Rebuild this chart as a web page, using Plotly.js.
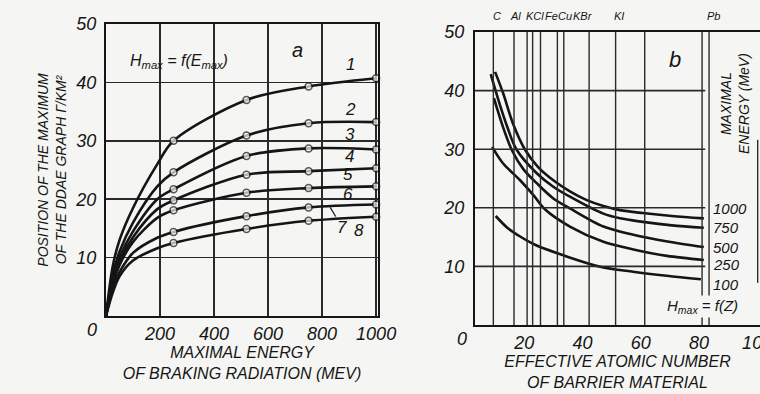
<!DOCTYPE html>
<html>
<head>
<meta charset="utf-8">
<script src="https://cdn.plot.ly/plotly-3.0.1.min.js"></script>
<style>
html,body{margin:0;padding:0;background:#f5f5f3;}
#chart{width:760px;height:394px;}
</style>
</head>
<body>
<div id="chart"></div>
<script>
// ---------- Panel a: H_max vs E_max ----------
const energy = [0, 25, 50, 100, 190, 250, 520, 750, 1000];
const curve1 = [0, 8.5, 13, 18.5, 26, 30, 37, 39.3, 40.7];
const curve2 = [0, 7, 11, 16, 22.2, 24.6, 30.9, 33.0, 33.2];
const curve3 = [0, 6.5, 10, 14.5, 20, 21.7, 27.4, 28.7, 28.5];
const curve4 = [0, 6, 9.3, 13.5, 18.3, 19.8, 24.2, 24.8, 25.3];
const curve5 = [0, 5.5, 8.7, 12.7, 16.8, 18.1, 21.1, 21.9, 22.2];
const curve6 = [0, 4.8, 7.5, 10.8, 13.4, 14.4, 17.1, 18.6, 19.1];
const curve8 = [0, 4, 6.8, 9.5, 11.6, 12.5, 14.9, 16.3, 17.0];
const measuredFrom = 250; // measured points drawn as open circles
const curveLabels = ['1','2','3','4','5','6','7','8'];
const xTicksA = [200, 400, 600, 800, 1000];
const yTicks = [10, 20, 30, 40, 50];

// ---------- Panel b: H_max vs Z ----------
const z1000 = [9.3, 12.1, 15.5, 19.6, 24, 29.3, 35, 40.8, 46.5, 52.2, 60, 70, 81];
const h1000 = [43.2, 39.5, 34.3, 29.9, 27, 24.7, 22.8, 21.3, 20.3, 19.6, 19.1, 18.6, 18.2];
const z750 = [7.8, 10.5, 13.5, 16.7, 23.6, 29.3, 35, 46.5, 52.2, 60, 70, 81];
const h750 = [42.8, 38.3, 33.8, 29.9, 25.9, 23.6, 21.9, 19.0, 18.2, 17.6, 17.0, 16.6];
const z500 = [8.9, 12, 15, 19, 23.6, 29.3, 35, 46.5, 56.8, 68, 81];
const h500 = [38.7, 33.8, 29.9, 26.6, 24.2, 21.6, 19.9, 16.8, 15.4, 14.3, 13.3];
const z250 = [8.3, 12, 17.9, 22.4, 26.5, 35, 46.5, 56.8, 68.3, 81];
const h250 = [30.4, 27.6, 24.7, 22.2, 19.7, 16.8, 14.2, 12.9, 11.8, 11.1];
const z100 = [9.5, 13.5, 17.9, 23, 33.9, 45.4, 56.7, 68.3, 80];
const h100 = [18.6, 16.6, 15.1, 13.7, 11.7, 9.95, 9.1, 8.4, 7.8];
const energyLabels = ['1000', '750', '500', '250', '100'];
const elementNames = ['C', 'Al', 'KCl', 'Fe', 'Cu', 'KBr', 'KI', 'Pb'];
const elementLabelZ = [10.0, 16.2, 23.0, 28.6, 33.4, 39.6, 51.9, 84.2];
const zLines = [8.7, 15.8, 20.3, 22.2, 24.9, 30.7, 32.9, 41.6, 50.7, 60.7, 80.4, 82.8];
const xTicksB = [20, 40, 60, 80, 100];

// ---------- styling ----------
const INK = '#151515';
const GRID = '#2a2a2a';
const BG = '#f5f5f3';
const numFont = {family: 'Liberation Sans Narrow, Liberation Sans, Arial, sans-serif', size: 18, color: INK, style: 'italic'};
const txtFont = {family: 'Liberation Sans, Arial, sans-serif', size: 15, color: INK, style: 'italic'};

const traces = [];
const aCurves = [curve1, curve2, curve3, curve4, curve5, curve6, curve8];
aCurves.forEach(c => {
  traces.push({
    x: energy, y: c, xaxis: 'x', yaxis: 'y',
    mode: 'lines+markers', type: 'scatter',
    line: {color: INK, width: 2.6, shape: 'spline', smoothing: 0.9},
    marker: {symbol: 'circle', size: energy.map(e => e >= measuredFrom ? 7 : 0),
             color: BG, line: {color: INK, width: 1.5}},
    hoverinfo: 'skip', showlegend: false, cliponaxis: false
  });
});
const bCurves = [[z1000, h1000], [z750, h750], [z500, h500], [z250, h250], [z100, h100]];
bCurves.forEach(([zx, hy]) => {
  traces.push({
    x: zx, y: hy, xaxis: 'x2', yaxis: 'y2',
    mode: 'lines', type: 'scatter',
    line: {color: INK, width: 2.6, shape: 'spline', smoothing: 0.9},
    hoverinfo: 'skip', showlegend: false
  });
});

const shapes = [];
zLines.forEach(z => shapes.push({type: 'line', xref: 'x2', yref: 'y2', x0: z, x1: z, y0: 0, y1: 50,
  line: {color: GRID, width: 1.4}}));
[10, 20, 30, 40].forEach(v => shapes.push({type: 'line', xref: 'x2', yref: 'y2', x0: 2.4, x1: 81.5, y0: v, y1: v,
  line: {color: GRID, width: 1.6}}));
shapes.push({type: 'line', xref: 'x2', yref: 'y2', x0: 99.5, x1: 99.5, y0: 7.2, y1: 31.6, line: {color: GRID, width: 1.4}});

const annotations = [];
// curve labels panel a
const aLabelPos = [[905, 43], [905, 35.3], [905, 31], [900, 27.3], [895, 24.2], [895, 20.8], null, [935, 14.6]];
curveLabels.forEach((t, i) => {
  if (i === 6) {
    annotations.push({xref: 'x', yref: 'y', x: 830, y: 18.6, text: t, showarrow: true, arrowhead: 0,
      arrowwidth: 1.2, arrowcolor: INK, ax: 12, ay: 20, font: {...numFont, size: 17}});
  } else {
    annotations.push({xref: 'x', yref: 'y', x: aLabelPos[i][0], y: aLabelPos[i][1], text: t, showarrow: false,
      font: {...numFont, size: 17}});
  }
});
annotations.push({xref: 'x', yref: 'y', x: 270, y: 43.6, text: 'H<sub>max</sub> = f(E<sub>max</sub>)', showarrow: false,
  font: {...txtFont, size: 16}});
annotations.push({xref: 'x', yref: 'y', x: 710, y: 45.6, text: 'a', showarrow: false, font: {...txtFont, size: 20}});
annotations.push({xref: 'paper', yref: 'paper', x: 92 / 760, y: 1 - 330 / 394, xanchor: 'center', yanchor: 'middle',
  text: '0', showarrow: false, font: numFont});
// panel b labels
const bLabelY = [19.8, 16.7, 13.3, 10.3, 6.9];
energyLabels.forEach((t, i) => annotations.push({xref: 'x2', yref: 'y2', x: 83.5, y: bLabelY[i], text: t,
  showarrow: false, xanchor: 'left', font: {...numFont, size: 15}}));
elementNames.forEach((t, i) => annotations.push({xref: 'x2', yref: 'paper', x: elementLabelZ[i], y: 1 - 16 / 394,
  yanchor: 'middle', text: t, showarrow: false, font: {...txtFont, size: 11}}));
annotations.push({xref: 'x2', yref: 'y2', x: 71, y: 45.3, text: 'b', showarrow: false, font: {...txtFont, size: 22}});
annotations.push({xref: 'x2', yref: 'y2', x: 80.5, y: 3.2, text: 'H<sub>max</sub> = f(Z)', showarrow: false,
  font: {...txtFont, size: 15}, bgcolor: BG});
annotations.push({xref: 'paper', yref: 'paper', x: 735 / 760, y: 1 - 104 / 394, xanchor: 'center', yanchor: 'middle',
  text: 'MAXIMAL<br>ENERGY (MeV)', textangle: -90, showarrow: false, font: {...txtFont, size: 14}});
annotations.push({xref: 'paper', yref: 'paper', x: 462 / 760, y: 1 - 339 / 394, xanchor: 'center', yanchor: 'middle',
  text: '0', showarrow: false, font: numFont});

const layout = {
  width: 760, height: 394,
  margin: {l: 0, r: 0, t: 0, b: 0},
  paper_bgcolor: BG, plot_bgcolor: BG,
  showlegend: false,
  xaxis: {
    domain: [106 / 760, 378 / 760], range: [0, 1007], anchor: 'y',
    tickvals: xTicksA, ticks: '', tickfont: numFont, ticklabelstandoff: 0,
    showgrid: true, gridcolor: GRID, gridwidth: 1.4, zeroline: false,
    showline: true, mirror: true, linecolor: INK, linewidth: 2.2,
    title: {text: 'MAXIMAL ENERGY<br>OF BRAKING RADIATION (MEV)', font: {...txtFont, size: 16}, standoff: 0}
  },
  yaxis: {
    domain: [1 - 316 / 394, 1 - 24 / 394], range: [0, 50], anchor: 'x',
    tickvals: yTicks, ticks: '', tickfont: numFont, ticklabelstandoff: 4,
    showgrid: true, gridcolor: GRID, gridwidth: 1.6, zeroline: false,
    showline: true, mirror: true, linecolor: INK, linewidth: 2.2,
    title: {text: 'POSITION OF THE MAXIMUM<br>OF THE DDAE GRAPH Г/KM²', font: {...txtFont, size: 14}, standoff: 5}
  },
  xaxis2: {
    domain: [475 / 760, 1], range: [2.4, 100.3], anchor: 'y2',
    tickvals: xTicksB, ticks: '', tickfont: numFont, ticklabelstandoff: 0, ticklabelshift: -2,
    ticklabeloverflow: 'allow',
    showgrid: false, zeroline: false,
    showline: true, mirror: true, linecolor: INK, linewidth: 2.2,
    title: {text: 'EFFECTIVE ATOMIC NUMBER<br>OF BARRIER MATERIAL', font: {...txtFont, size: 16}, standoff: 4}
  },
  yaxis2: {
    domain: [1 - 325 / 394, 1 - 32 / 394], range: [0, 50], anchor: 'x2',
    tickvals: yTicks, ticks: '', tickfont: numFont, ticklabelstandoff: 5,
    showgrid: false, zeroline: false,
    showline: true, mirror: false, linecolor: INK, linewidth: 2.2
  },
  shapes: shapes,
  annotations: annotations
};

Plotly.newPlot('chart', traces, layout, {staticPlot: true, displayModeBar: false});
</script>
</body>
</html>
